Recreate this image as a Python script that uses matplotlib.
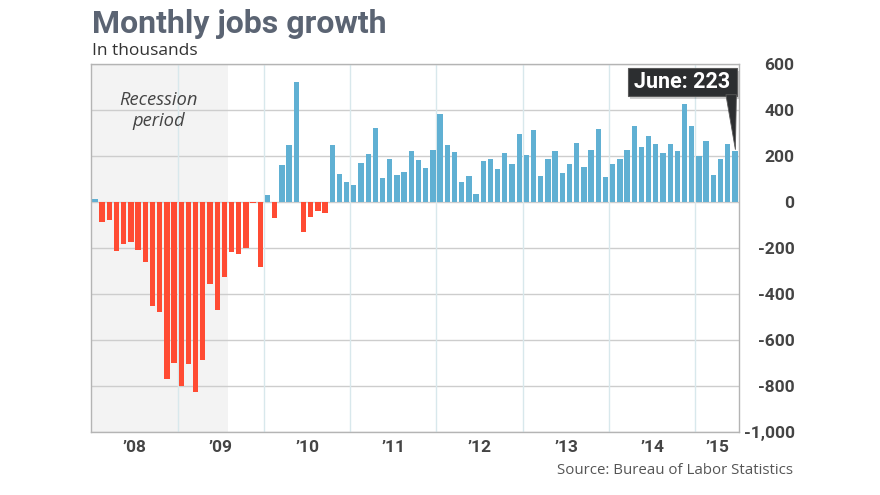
import matplotlib
matplotlib.use("Agg")
import matplotlib.pyplot as plt
from matplotlib.patches import Rectangle, Polygon
from matplotlib.transforms import IdentityTransform
import numpy as np

# ---------------- data ----------------
years = ["\u201908", "\u201909", "\u201910", "\u201911", "\u201912", "\u201913", "\u201914", "\u201915"]
months_per_year = [12, 12, 12, 12, 12, 12, 12, 6]

jobs_2008 = [14, -87, -78, -213, -183, -172, -210, -259, -452, -477, -768, -699]
jobs_2009 = [-800, -706, -828, -686, -357, -470, -326, -217, -228, -200, -6, -284]
jobs_2010 = [32, -68, 161, 248, 520, -130, -64, -38, -49, 249, 122, 88]
jobs_2011 = [74, 168, 207, 322, 103, 186, 117, 129, 223, 183, 146, 226]
jobs_2012 = [381, 248, 216, 87, 113, 35, 178, 188, 143, 213, 165, 294]
jobs_2013 = [206, 314, 114, 188, 220, 128, 165, 257, 151, 226, 319, 109]
jobs_2014 = [167, 188, 226, 332, 238, 288, 251, 214, 251, 222, 425, 332]
jobs_2015 = [201, 266, 119, 187, 254, 223]

jobs = jobs_2008 + jobs_2009 + jobs_2010 + jobs_2011 + jobs_2012 + jobs_2013 + jobs_2014 + jobs_2015

y_ticks = [600, 400, 200, 0, -200, -400, -600, -800, -1000]
y_tick_labels = ["600", "400", "200", "0", "-200", "-400", "-600", "-800", "-1,000"]

last_label = "June"

# ---------------- styles ----------------
RED = "#ff4b33"
BLUE = "#60b0d3"
SHADE = "#f3f3f3"
HGRID = "#cdcdcd"
VGRID = "#d8e8ec"
SPINE = "#b4b4b4"
TXT = "#444444"

fig = plt.figure(figsize=(8.8, 4.95), dpi=100)
fig.patch.set_facecolor("white")
ax = fig.add_axes([91 / 880, 1 - 432 / 495, (739 - 91) / 880, (432 - 64) / 495])

n = len(jobs)
x = np.arange(n)
colors = [BLUE if v > 0 else RED for v in jobs]

ax.set_xlim(-0.55, n - 1 + 0.57)
ax.set_ylim(y_ticks[-1], y_ticks[0])

# recession shading (first 19 months)
ax.axvspan(-0.55, 18.45, color=SHADE, zorder=0, lw=0)

# grids
for yt in y_ticks:
    ax.axhline(yt, color=HGRID, lw=1, zorder=1)
bounds = np.cumsum(months_per_year)[:-1] - 0.5
for b in bounds:
    ax.axvline(b, color=VGRID, lw=1, zorder=1)

ax.bar(x, jobs, width=0.74, color=colors, zorder=2, lw=0)

# ticks
starts = np.concatenate([[0], np.cumsum(months_per_year)[:-1]])
centers = starts + (np.array(months_per_year) - 1) / 2
ax.set_xticks(centers)
ax.set_xticklabels(years, fontfamily="Roboto", fontweight="bold", fontsize=12.5, color=TXT)
ax.tick_params(axis="x", length=0, pad=6)

ax.yaxis.tick_right()
ax.set_yticks(y_ticks)
ax.set_yticklabels(y_tick_labels, fontfamily="Roboto", fontweight="bold", fontsize=12.5, color=TXT)
ax.tick_params(axis="y", length=0, pad=40)
for lbl in ax.get_yticklabels():
    lbl.set_horizontalalignment("right")

for s in ax.spines.values():
    s.set_color(SPINE)
    s.set_linewidth(1)

# recession text
ax.text(8.9, 398, "Recession\nperiod", fontfamily="Open Sans", fontstyle="italic",
        fontsize=13.2, color=TXT, ha="center", va="center", linespacing=1.15, zorder=3)

# titles
fig.text(92 / 880, 1 - 33 / 495, "Monthly jobs growth", fontfamily="Roboto", fontweight="bold",
         fontsize=23, color="#5b6473", va="baseline", ha="left")
fig.text(92 / 880, 1 - 55 / 495, "In thousands", fontfamily="Open Sans",
         fontsize=12.5, color="#333333", va="baseline", ha="left")
fig.text(793 / 880, 1 - 474 / 495, "Source: Bureau of Labor Statistics", fontfamily="Open Sans",
         fontsize=10.8, color="#555555", va="baseline", ha="right")

# tooltip anchored at last bar
fig.canvas.draw()
tx, ty = ax.transData.transform((n - 1, jobs[-1]))
ident = IdentityTransform()
shadow = Rectangle((tx - 105, ty + 52), 109, 28, transform=ident, facecolor="black",
                   alpha=0.18, lw=0, zorder=5)
box = Rectangle((tx - 107, ty + 55), 109, 28, transform=ident, facecolor="#2c2e30",
                edgecolor="#5a5a5a", lw=0.8, zorder=6)
tri = Polygon([(tx - 9, ty + 56), (tx + 1.5, ty + 56), (tx + 0.5, ty + 1)], closed=True,
              transform=ident, facecolor="#2c2e30", edgecolor="#5a5a5a", lw=0.6, zorder=6)
for p in (shadow, box, tri):
    p.set_clip_on(False)
    fig.add_artist(p)
fig.text(tx - 52.5, ty + 68.5, f"{last_label}: {jobs[-1]}", transform=ident, fontfamily="Roboto",
         fontweight="bold", fontsize=15.5, color="white", ha="center", va="center", zorder=7)

fig.savefig("out.png", dpi=100, facecolor="white")
